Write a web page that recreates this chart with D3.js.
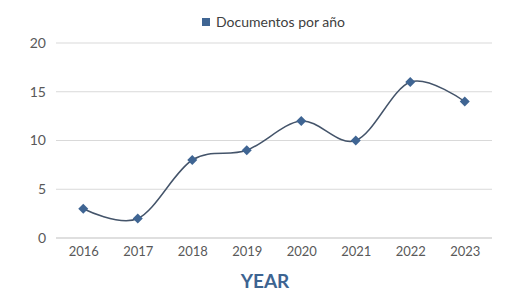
<!DOCTYPE html>
<html><head><meta charset="utf-8">
<script src="https://cdn.jsdelivr.net/npm/d3@7"></script>
<style>body{margin:0;background:#fff}svg{display:block}</style>
</head><body>
<script>
const years = ["2016","2017","2018","2019","2020","2021","2022","2023"];
const docs = [3,2,8,9,12,10,16,14];
const yTicks = [0,5,10,15,20];
const seriesName = "Documentos por año";
const axisTitle = "YEAR";

const W=524,H=302;
const m={left:56,right:32,top:43,bottom:64};
const svg=d3.select("body").append("svg").attr("width",W).attr("height",H);
const font="Lato, 'Open Sans', sans-serif";
const x=d3.scalePoint().domain(years).range([m.left,W-m.right]).padding(0.5);
const y=d3.scaleLinear().domain([0,20]).range([H-m.bottom,m.top]);

svg.append("g").selectAll("line").data(yTicks).join("line")
  .attr("x1",m.left).attr("x2",W-m.right)
  .attr("y1",d=>y(d)).attr("y2",d=>y(d))
  .attr("stroke",d=>d===0?"#bfbfbf":"#d9d9d9").attr("stroke-width",1);

const ya=svg.append("g").attr("transform",`translate(${m.left-10},0)`)
  .call(d3.axisLeft(y).tickValues(yTicks).tickSize(0).tickPadding(0));
ya.select(".domain").remove();
ya.selectAll("text").attr("font-family",font).attr("font-size",14).attr("fill","#595959");

const xa=svg.append("g").attr("transform",`translate(0,${H-m.bottom})`)
  .call(d3.axisBottom(x).tickSize(0).tickPadding(9));
xa.select(".domain").remove();
xa.selectAll("text").attr("font-family",font).attr("font-size",13).attr("fill","#595959");

const line=d3.line().x((d,i)=>x(years[i])).y(d=>y(d)).curve(d3.curveCardinal.tension(0));
svg.append("path").datum(docs).attr("d",line).attr("fill","none")
  .attr("stroke","#44546a").attr("stroke-width",1.5);

svg.append("g").selectAll("path").data(docs).join("path")
  .attr("d",d3.symbol(d3.symbolDiamond2,64)())
  .attr("transform",(d,i)=>`translate(${x(years[i])},${y(d)})`)
  .attr("fill","#3f6593");

const lg=svg.append("g");
lg.append("rect").attr("x",202).attr("y",18).attr("width",8).attr("height",8).attr("fill","#3f6593");
lg.append("text").attr("x",216).attr("y",27).text(seriesName)
  .attr("font-family",font).attr("font-size",14).attr("fill","#404040");

svg.append("text").attr("x",265).attr("y",288).attr("text-anchor","middle").text(axisTitle)
  .attr("font-family",font).attr("font-weight","bold").attr("font-size",19).attr("fill","#3d6491");
</script>
</body></html>
